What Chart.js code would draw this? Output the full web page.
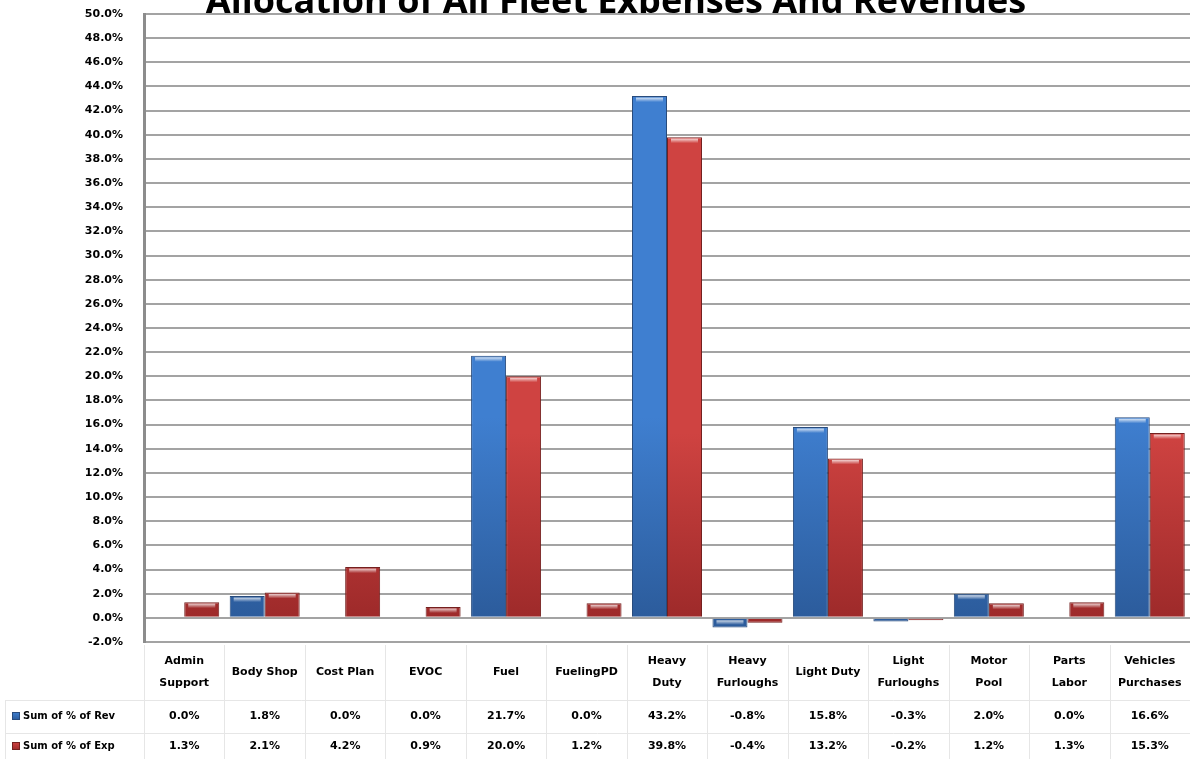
<!DOCTYPE html>
<html>
<head>
<meta charset="utf-8">
<title>Allocation of All Fleet Expenses And Revenues</title>
<script src="https://cdn.jsdelivr.net/npm/chart.js@4.4.0/dist/chart.umd.min.js"></script>
<style>
  html, body { margin: 0; padding: 0; background: #fff; overflow: hidden; }
  #wrap { width: 1190px; height: 759px; }
</style>
</head>
<body>
<div id="wrap"><canvas id="grafico" width="1190" height="759"></canvas></div>
<script>
// Datos del gráfico
const titulo = "Allocation of All Fleet Expenses And Revenues";
const categorias = [
  ["Admin", "Support"], ["Body Shop"], ["Cost Plan"], ["EVOC"], ["Fuel"], ["FuelingPD"],
  ["Heavy", "Duty"], ["Heavy", "Furloughs"], ["Light Duty"], ["Light", "Furloughs"],
  ["Motor", "Pool"], ["Parts", "Labor"], ["Vehicles", "Purchases"]
];
const nombresSeries = ["Sum of % of Rev", "Sum of % of Exp"];
const valoresRev = [0.0, 1.8, 0.0, 0.0, 21.7, 0.0, 43.2, -0.8, 15.8, -0.3, 2.0, 0.0, 16.6];
const valoresExp = [1.3, 2.1, 4.2, 0.9, 20.0, 1.2, 39.8, -0.4, 13.2, -0.2, 1.2, 1.3, 15.3];
const ejeMin = -2;
const ejeMax = 50;
const ejePaso = 2;

const fuente = '"DejaVu Sans", sans-serif';
const colores = [
  { arriba: "#3f7fd0", abajo: "#2c5c9c", borde: "#284b7c" },
  { arriba: "#cf4341", abajo: "#9e2a2a", borde: "#74201f" }
];

const fmt = (v) => v.toFixed(1) + "%";

// Degradado vertical por barra + brillo arriba
const degradadoBarras = {
  id: "degradadoBarras",
  beforeDatasetsDraw(chart) {
    const c = chart.ctx;
    chart.data.datasets.forEach((ds, i) => {
      chart.getDatasetMeta(i).data.forEach((bar) => {
        const top = Math.min(bar.y, bar.base);
        const bottom = Math.max(bar.y, bar.base);
        if (bottom - top < 1) return;
        const g = c.createLinearGradient(0, top, 0, bottom);
        g.addColorStop(0, colores[i].arriba);
        g.addColorStop(1, colores[i].abajo);
        bar.options.backgroundColor = g;
      });
    });
  },
  afterDatasetsDraw(chart) {
    const c = chart.ctx;
    chart.data.datasets.forEach((ds, i) => {
      chart.getDatasetMeta(i).data.forEach((bar) => {
        const top = Math.min(bar.y, bar.base);
        const h = Math.abs(bar.base - bar.y);
        if (h < 5) return;
        const x0 = bar.x - bar.width / 2 + 4;
        const w = bar.width - 8;
        const g = c.createLinearGradient(0, top + 1, 0, top + 6);
        g.addColorStop(0, "rgba(255,255,255,0.85)");
        g.addColorStop(1, "rgba(255,255,255,0)");
        c.save();
        c.fillStyle = g;
        c.fillRect(x0, top + 1.5, w, 4.5);
        c.restore();
      });
    });
  }
};

// Título (cortado arriba) y tabla de datos debajo del gráfico
const tablaDatos = {
  id: "tablaDatos",
  afterDraw(chart) {
    const c = chart.ctx;
    const area = chart.chartArea;
    const x = chart.scales.x;
    const n = categorias.length;
    const anchoCol = (area.right - area.left) / n;
    const filas = [valoresRev, valoresExp];

    // título: el área del gráfico tapa la parte de abajo
    c.save();
    c.beginPath();
    c.rect(0, 0, chart.width, area.top - 1);
    c.clip();
    c.fillStyle = "#000";
    c.font = 'bold 36px "Open Sans", sans-serif';
    c.textAlign = "center";
    c.textBaseline = "alphabetic";
    c.fillText(titulo, 616, 13);
    c.restore();

    c.save();
    // líneas de la tabla
    c.strokeStyle = "#e6e6e6";
    c.lineWidth = 1;
    const yFilas = [645, 700, 733, 759];
    c.beginPath();
    for (let k = 0; k <= n; k++) {
      const xl = Math.round(area.left + k * anchoCol) + 0.5;
      c.moveTo(xl, yFilas[0]);
      c.lineTo(xl, 759);
    }
    c.moveTo(5, yFilas[1] + 0.5); c.lineTo(area.right, yFilas[1] + 0.5);
    c.moveTo(5, yFilas[2] + 0.5); c.lineTo(area.right, yFilas[2] + 0.5);
    c.moveTo(5.5, yFilas[1]); c.lineTo(5.5, 759);
    c.stroke();

    // encabezados
    c.fillStyle = "#000";
    c.font = "bold 11px " + fuente;
    c.textAlign = "center";
    c.textBaseline = "middle";
    categorias.forEach((lineas, i) => {
      const cx = x.getPixelForValue(i);
      if (lineas.length === 1) {
        c.fillText(lineas[0], cx, 672);
      } else {
        c.fillText(lineas[0], cx, 661);
        c.fillText(lineas[1], cx, 683);
      }
    });

    // filas de valores
    const yTexto = [716, 746];
    filas.forEach((vals, f) => {
      vals.forEach((v, i) => {
        c.fillText(fmt(v), x.getPixelForValue(i), yTexto[f]);
      });
      // clave de la leyenda
      const g = c.createLinearGradient(0, yTexto[f] - 4, 0, yTexto[f] + 4);
      g.addColorStop(0, colores[f].arriba);
      g.addColorStop(1, colores[f].abajo);
      c.fillStyle = g;
      c.fillRect(12, yTexto[f] - 4, 8, 8);
      c.strokeStyle = colores[f].borde;
      c.strokeRect(12.5, yTexto[f] - 3.5, 7, 7);
      c.fillStyle = "#000";
      c.textAlign = "left";
      c.font = "bold 10px " + fuente;
      c.fillText(nombresSeries[f], 23, yTexto[f]);
      c.textAlign = "center";
      c.font = "bold 11px " + fuente;
    });
    c.restore();
  }
};

const ctx = document.getElementById("grafico").getContext("2d");
new Chart(ctx, {
  type: "bar",
  data: {
    labels: categorias,
    datasets: [
      {
        label: nombresSeries[0],
        data: valoresRev,
        backgroundColor: colores[0].abajo,
        borderColor: colores[0].borde,
        borderWidth: 1,
        categoryPercentage: 0.87,
        barPercentage: 1.0
      },
      {
        label: nombresSeries[1],
        data: valoresExp,
        backgroundColor: colores[1].abajo,
        borderColor: colores[1].borde,
        borderWidth: 1,
        categoryPercentage: 0.87,
        barPercentage: 1.0
      }
    ]
  },
  options: {
    responsive: false,
    animation: false,
    layout: { padding: { left: 0, right: 0, top: 14, bottom: 117 } },
    plugins: {
      legend: { display: false },
      tooltip: { enabled: false },
      title: { display: false }
    },
    scales: {
      x: { display: false },
      y: {
        min: ejeMin,
        max: ejeMax,
        afterFit(scale) { scale.width = 144; },
        ticks: {
          stepSize: ejePaso,
          autoSkip: false,
          padding: 0,
          color: "#000",
          font: { family: fuente, size: 11, weight: "bold" },
          callback: (v) => fmt(v)
        },
        grid: {
          color: "#a3a3a3",
          lineWidth: 2,
          drawTicks: true,
          tickLength: 21,
          tickColor: "rgba(0,0,0,0)"
        },
        border: { color: "#8c8c8c", width: 3 }
      }
    }
  },
  plugins: [degradadoBarras, tablaDatos]
});
</script>
</body>
</html>
